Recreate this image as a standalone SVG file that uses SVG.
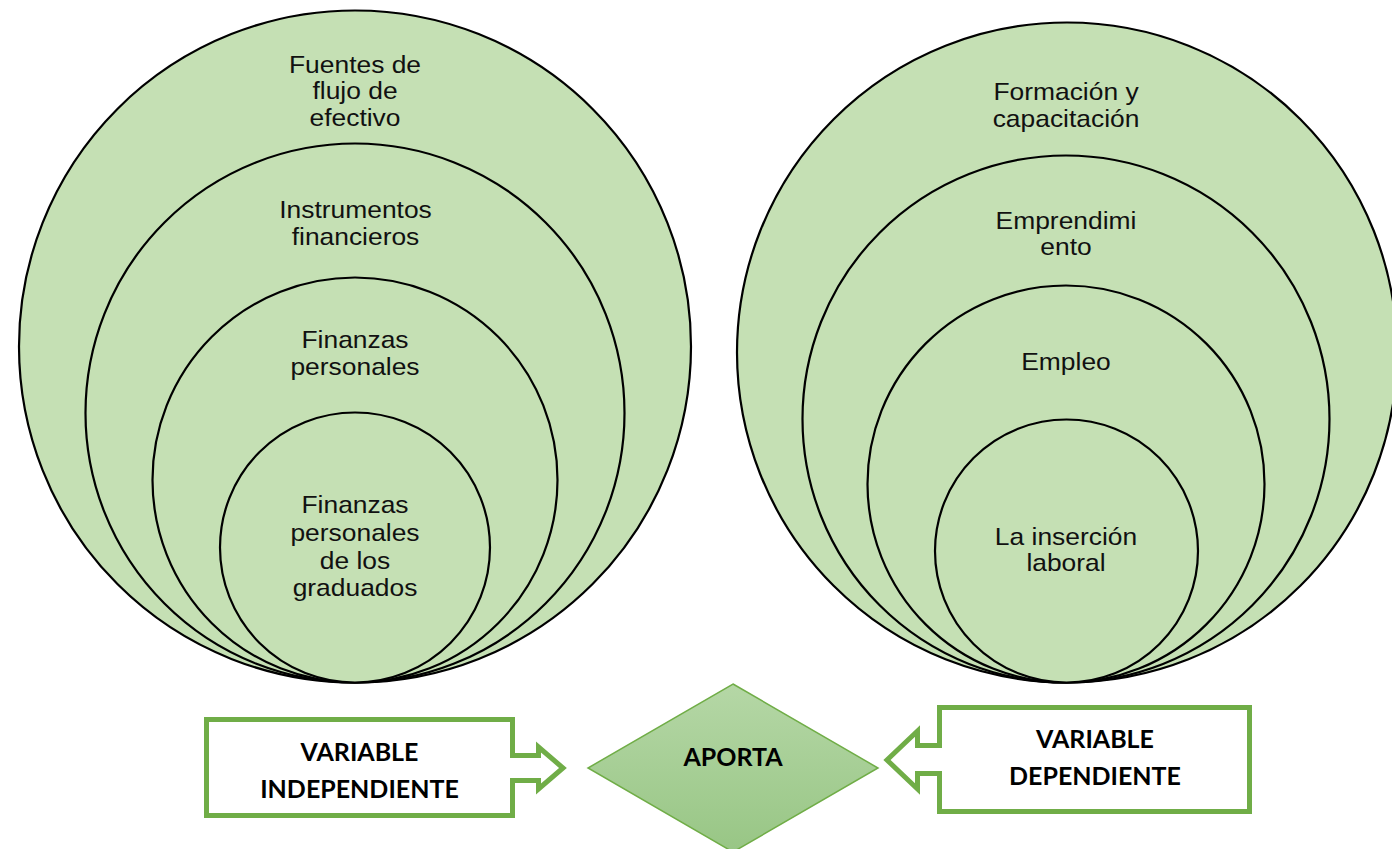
<svg xmlns="http://www.w3.org/2000/svg" width="1392" height="849" viewBox="0 0 1392 849">
<style>
.c{fill:#c5e0b4;stroke:#000;stroke-width:2.2}
.t{font-family:"Liberation Sans",Arial,sans-serif;font-size:24px;fill:#111;text-anchor:middle}
.b{font-family:Lato,"Open Sans",sans-serif;font-weight:bold;font-size:25px;fill:#000;text-anchor:middle}
.box{fill:#fff;stroke:#70ad47;stroke-width:5;stroke-linejoin:miter}
</style>
<defs>
<linearGradient id="dg" x1="0" y1="0" x2="0" y2="1">
<stop offset="0" stop-color="#b5d7a6"/>
<stop offset="1" stop-color="#98c685"/>
</linearGradient>
</defs>
<rect width="1392" height="849" fill="#fff"/>
<g id="left-circles">
<g id="n-fuentes">
<circle class="c" cx="355" cy="346.5" r="336"/>
<g transform="translate(355,0) scale(1.1,1)"><text class="t" x="0" y="73">Fuentes de</text><text class="t" x="0" y="99.5">flujo de</text><text class="t" x="0" y="126">efectivo</text></g>
</g>
<g id="n-instrumentos">
<circle class="c" cx="355" cy="413" r="269.5"/>
<g transform="translate(355.5,0) scale(1.1,1)"><text class="t" x="0" y="218.5">Instrumentos</text><text class="t" x="0" y="245">financieros</text></g>
</g>
<g id="n-finanzas">
<circle class="c" cx="355" cy="480" r="202.5"/>
<g transform="translate(355,0) scale(1.1,1)"><text class="t" x="0" y="348">Finanzas</text><text class="t" x="0" y="375">personales</text></g>
</g>
<g id="n-graduados">
<circle class="c" cx="355" cy="547.5" r="135"/>
<g transform="translate(355,0) scale(1.1,1)"><text class="t" x="0" y="513.5">Finanzas</text><text class="t" x="0" y="541.5">personales</text><text class="t" x="0" y="569">de los</text><text class="t" x="0" y="596.5">graduados</text></g>
</g>
</g>
<g id="right-circles">
<g id="n-formacion">
<circle class="c" cx="1067" cy="352.5" r="330"/>
<g transform="translate(1066,0) scale(1.1,1)"><text class="t" x="0" y="100">Formación y</text><text class="t" x="0" y="127">capacitación</text></g>
</g>
<g id="n-emprendimiento">
<circle class="c" cx="1066" cy="419" r="263.5"/>
<g transform="translate(1066,0) scale(1.1,1)"><text class="t" x="0" y="229.5">Emprendimi</text><text class="t" x="0" y="255.5">ento</text></g>
</g>
<g id="n-empleo">
<circle class="c" cx="1066" cy="484" r="198.5"/>
<g transform="translate(1066,0) scale(1.1,1)"><text class="t" x="0" y="370">Empleo</text></g>
</g>
<g id="n-insercion">
<circle class="c" cx="1066.5" cy="551" r="131.5"/>
<g transform="translate(1066,0) scale(1.1,1)"><text class="t" x="0" y="545">La inserción</text><text class="t" x="0" y="571.5">laboral</text></g>
</g>
</g>
<g id="connectors">
<g id="n-independiente">
<path class="box" d="M206.5,719.5 H512.5 V755.5 H538.5 V747 L563,768 L538.5,789 V780.5 H512.5 V815.5 H206.5 Z"/>
<text class="b" x="359.5" y="761">VARIABLE</text>
<text class="b" x="359.5" y="798">INDEPENDIENTE</text>
</g>
<g id="n-dependiente">
<path class="box" d="M1249.5,707.5 H939.5 V745.5 H917.5 V731 L887,760 L917.5,789 V773.5 H939.5 V811.5 H1249.5 Z"/>
<text class="b" x="1095" y="748">VARIABLE</text>
<text class="b" x="1095" y="785">DEPENDIENTE</text>
</g>
</g>
<g id="n-aporta">
<polygon points="733,684 878,768 733,852 588,768" fill="url(#dg)" stroke="#70ad47" stroke-width="1.5"/>
<text class="b" x="733" y="766">APORTA</text>
</g>
</svg>
